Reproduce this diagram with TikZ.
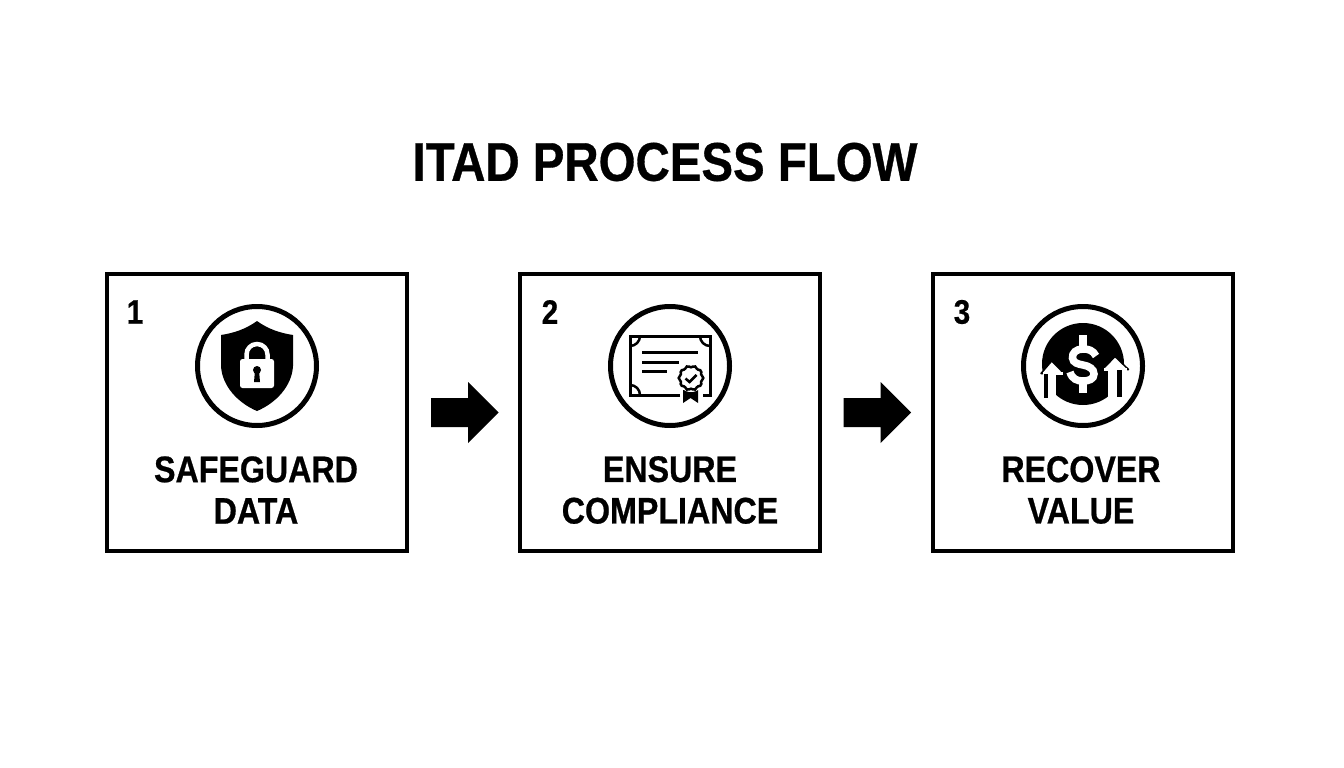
\documentclass[tikz,border=0pt]{standalone}
\usepackage{fontspec}
\setmainfont[FakeStretch=0.87,BoldFeatures={FakeBold=0.6}]{Liberation Sans}
\begin{document}
\begin{tikzpicture}[x=1pt,y=-1pt,
  stepbox/.style={draw=black,line width=4pt,fill=white,minimum width=300pt,minimum height=277pt,inner sep=0pt},
  badge/.style={draw=black,line width=5pt,circle,minimum size=119pt,inner sep=0pt},
  flowarrow/.style={fill=black,draw=none},
  numlabel/.style={font=\fontsize{34}{34}\selectfont\bfseries,inner sep=0pt,anchor=center},
  steplabel/.style={font=\fontsize{37}{41.5}\selectfont\bfseries,align=center,inner sep=0pt,anchor=center},
  titlelabel/.style={font=\fontsize{54.5}{54.5}\selectfont\bfseries,inner sep=0pt,anchor=center},
  thinline/.style={draw=black,line width=3pt}]
\useasboundingbox (0,0) rectangle (1344,768);
\fill[white] (0,0) rectangle (1344,768);
\node[titlelabel] (title) at (665,162) {ITAD PROCESS FLOW};
\node[stepbox] (b1) at (257,412.5) {};
\node[stepbox] (b2) at (670,412.5) {};
\node[stepbox] (b3) at (1083,412.5) {};
\node[numlabel] (n1) at (135,312) {1};
\node[numlabel] (n2) at (550,312) {2};
\node[numlabel] (n3) at (962,312) {3};
\node[badge] (c1) at (257,366) {};
\node[badge] (c2) at (670,366) {};
\node[steplabel] (t1) at (256,490) {SAFEGUARD\\DATA};
\node[steplabel] (t2) at (670,490) {ENSURE\\COMPLIANCE};
\node[steplabel] (t3) at (1081,490) {RECOVER\\VALUE};
% arrows
\fill[flowarrow] (431,398) -- (468,398) -- (468,382) -- (498.5,412.5) -- (468,443) -- (468,427) -- (431,427) -- cycle;
\fill[flowarrow] (843.5,398) -- (880.5,398) -- (880.5,382) -- (911,412.5) -- (880.5,443) -- (880.5,427) -- (843.5,427) -- cycle;
% shield
\fill[black] (257,321) .. controls (246,329) and (234,333) .. (221,335) -- (221,366) .. controls (222,386) and (238,403) .. (257,411) .. controls (276,403) and (292,386) .. (293,366) -- (293,335) .. controls (280,333) and (268,329) .. (257,321) -- cycle;
\draw[white,line width=4.5pt] (246.5,361) -- (246.5,354.5) arc[start angle=180,end angle=360,radius=10.5] -- (267.5,361);
\fill[white,rounded corners=2.5pt] (240,359) rectangle (274,388);
\fill[black] (257,370) circle[radius=4];
\fill[black] (255,370) -- (259,370) -- (260,382) -- (254,382) -- cycle;
% certificate
\draw[thinline] (680,395) -- (630,395) -- (630,336) -- (710,336) -- (710,395) -- (703,395);
\draw[thinline,line width=2.5pt] (630,346) arc[start angle=90,end angle=0,radius=10];
\draw[thinline,line width=2.5pt] (700,336) arc[start angle=180,end angle=90,radius=10];
\draw[thinline,line width=2.5pt] (630,385) arc[start angle=270,end angle=360,radius=10];
\draw[thinline] (642,352.7) -- (698,352.7);
\draw[thinline] (642,362.7) -- (679,362.7);
\draw[thinline] (642,371.7) -- (667,371.7);
\fill[black] (683,390) -- (698,390) -- (698,403) -- (690.5,398) -- (683,403) -- cycle;
\fill[white] (691,378) circle[radius=14];
\draw[black,line width=2.5pt,fill=white] plot[samples=37,domain=0:360,smooth cycle] ({691+(11.5+0.8*cos(10*\x))*cos(\x)},{378+(11.5+0.8*cos(10*\x))*sin(\x)});
\draw[black,line width=2.5pt] (685.5,378.5) -- (689.5,382) -- (696.5,375);
% coin
\fill[black] (1083,364) circle[radius=41];
\fill[white] (1030,373) rectangle (1056,420);
\fill[white] (1108,369) rectangle (1136,420);
% left rising arrow
\fill[white,draw=black,line width=1.5pt,line join=round] (1051.7,361) -- (1064,373.5) -- (1041,373.5) -- cycle;
\fill[white] (1042.5,372) rectangle (1063,375);
\fill[black] (1044,374) rectangle (1048,398);
% right rising arrow
\fill[white,draw=black,line width=1.5pt,line join=round] (1115,356.5) -- (1128.5,369.5) -- (1102.5,369.5) -- cycle;
\fill[white] (1104,368) rectangle (1127,371);
\fill[black] (1117.3,370) rectangle (1121.7,397);
% dollar
\draw[white,line width=7.5pt] (1096,356) .. controls (1093,350) and (1088,349) .. (1083,349) .. controls (1076,349) and (1072,353) .. (1072.5,358) .. controls (1073,363) and (1078,364) .. (1083,365) .. controls (1089,366) and (1094,369) .. (1094,374) .. controls (1094,379) and (1089,381) .. (1083,381) .. controls (1077,381) and (1072,379) .. (1070,372);
\fill[white] (1079,335) rectangle (1087,347);
\fill[white] (1079,383) rectangle (1087,393);
\node[badge] (c3) at (1083,366) {};
\end{tikzpicture}
\end{document}
